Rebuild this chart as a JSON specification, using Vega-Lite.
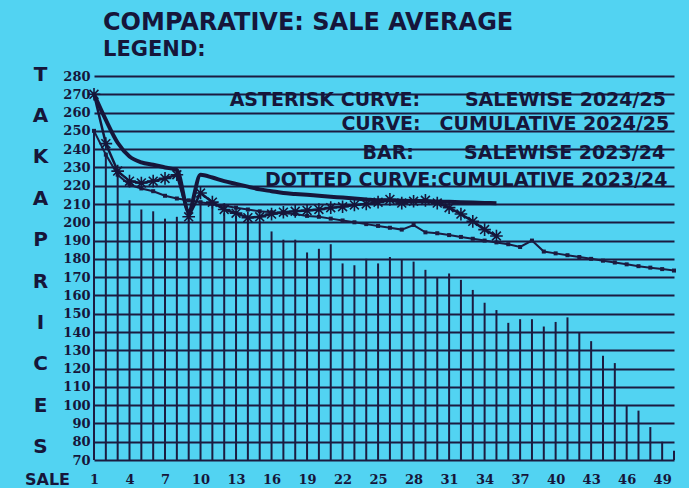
{
  "$schema": "https://vega.github.io/schema/vega-lite/v6.json",
  "width": 580,
  "height": 384,
  "autosize": {"type": "none"},
  "padding": {"left": 94, "top": 76, "right": 15, "bottom": 28},
  "background": "#52d3f2",
  "config": {"view": {"stroke": null}},
  "title": {
    "text": "COMPARATIVE: SALE AVERAGE",
    "subtitle": "LEGEND:",
    "anchor": "start",
    "frame": "group",
    "dx": 9,
    "offset": 4,
    "font": "DejaVu Sans",
    "fontSize": 24,
    "fontWeight": "bold",
    "color": "#16163a",
    "subtitleFont": "DejaVu Sans",
    "subtitleFontSize": 21,
    "subtitleFontWeight": "bold",
    "subtitleColor": "#16163a",
    "subtitlePadding": 4
  },
  "datasets": {
    "y2324": [
      {"sale": 1, "bar": 250, "cum": 250},
      {"sale": 2, "bar": 238, "cum": 237},
      {"sale": 3, "bar": 225, "cum": 226},
      {"sale": 4, "bar": 212, "cum": 220.5},
      {"sale": 5, "bar": 207, "cum": 218.5},
      {"sale": 6, "bar": 206, "cum": 217},
      {"sale": 7, "bar": 202, "cum": 214.5},
      {"sale": 8, "bar": 203, "cum": 213},
      {"sale": 9, "bar": 206, "cum": 212},
      {"sale": 10, "bar": 211, "cum": 211},
      {"sale": 11, "bar": 209, "cum": 210},
      {"sale": 12, "bar": 205, "cum": 209},
      {"sale": 13, "bar": 203.5, "cum": 208},
      {"sale": 14, "bar": 201.5, "cum": 207},
      {"sale": 15, "bar": 200.5, "cum": 206},
      {"sale": 16, "bar": 195, "cum": 205.5},
      {"sale": 17, "bar": 190.5, "cum": 205},
      {"sale": 18, "bar": 190.5, "cum": 204.5},
      {"sale": 19, "bar": 183.5, "cum": 203.5},
      {"sale": 20, "bar": 185.5, "cum": 203},
      {"sale": 21, "bar": 188, "cum": 202},
      {"sale": 22, "bar": 177.5, "cum": 201},
      {"sale": 23, "bar": 176.5, "cum": 200},
      {"sale": 24, "bar": 180, "cum": 199},
      {"sale": 25, "bar": 177.5, "cum": 198},
      {"sale": 26, "bar": 181, "cum": 197},
      {"sale": 27, "bar": 179.5, "cum": 196},
      {"sale": 28, "bar": 178.5, "cum": 198.5},
      {"sale": 29, "bar": 174, "cum": 194.5},
      {"sale": 30, "bar": 170, "cum": 194},
      {"sale": 31, "bar": 172, "cum": 193},
      {"sale": 32, "bar": 168.5, "cum": 192},
      {"sale": 33, "bar": 163, "cum": 191},
      {"sale": 34, "bar": 156, "cum": 190},
      {"sale": 35, "bar": 152, "cum": 189},
      {"sale": 36, "bar": 145, "cum": 188},
      {"sale": 37, "bar": 147, "cum": 186.5},
      {"sale": 38, "bar": 147, "cum": 190},
      {"sale": 39, "bar": 143, "cum": 184},
      {"sale": 40, "bar": 145.5, "cum": 183},
      {"sale": 41, "bar": 148, "cum": 182},
      {"sale": 42, "bar": 140, "cum": 181},
      {"sale": 43, "bar": 135, "cum": 180},
      {"sale": 44, "bar": 127, "cum": 179},
      {"sale": 45, "bar": 123, "cum": 178},
      {"sale": 46, "bar": 100, "cum": 177},
      {"sale": 47, "bar": 97, "cum": 176},
      {"sale": 48, "bar": 88, "cum": 175.2},
      {"sale": 49, "bar": 80, "cum": 174.4},
      {"sale": 50, "bar": 75, "cum": 173.6}
    ],
    "y2425": [
      {"sale": 1, "sw": 270, "cum": 270},
      {"sale": 2, "sw": 243, "cum": 256},
      {"sale": 3, "sw": 228, "cum": 243.5},
      {"sale": 4, "sw": 222.5, "cum": 236},
      {"sale": 5, "sw": 221.5, "cum": 232.8},
      {"sale": 6, "sw": 222.5, "cum": 231.5},
      {"sale": 7, "sw": 224, "cum": 230},
      {"sale": 8, "sw": 226, "cum": 228.5},
      {"sale": 9, "sw": 203, "cum": 206},
      {"sale": 10, "sw": 216, "cum": 226},
      {"sale": 11, "sw": 211, "cum": 224.5},
      {"sale": 12, "sw": 207, "cum": 222.5},
      {"sale": 13, "sw": 205, "cum": 221},
      {"sale": 14, "sw": 202.5, "cum": 219.5},
      {"sale": 15, "sw": 203, "cum": 218},
      {"sale": 16, "sw": 204.5, "cum": 217},
      {"sale": 17, "sw": 205.5, "cum": 216},
      {"sale": 18, "sw": 206, "cum": 215.5},
      {"sale": 19, "sw": 206.5, "cum": 215},
      {"sale": 20, "sw": 207, "cum": 214.5},
      {"sale": 21, "sw": 208, "cum": 214},
      {"sale": 22, "sw": 208.5, "cum": 213.5},
      {"sale": 23, "sw": 209.5, "cum": 213},
      {"sale": 24, "sw": 210, "cum": 212.5},
      {"sale": 25, "sw": 211, "cum": 212},
      {"sale": 26, "sw": 212.5, "cum": 212},
      {"sale": 27, "sw": 210.5, "cum": 211.8},
      {"sale": 28, "sw": 211.5, "cum": 211.6},
      {"sale": 29, "sw": 212, "cum": 211.5},
      {"sale": 30, "sw": 210.5, "cum": 211.3},
      {"sale": 31, "sw": 208, "cum": 211.2},
      {"sale": 32, "sw": 204.5, "cum": 211},
      {"sale": 33, "sw": 200.5, "cum": 210.8},
      {"sale": 34, "sw": 196, "cum": 210.6},
      {"sale": 35, "sw": 192.5, "cum": 210.4}
    ]
  },
  "layer": [
    {
      "data": {"name": "y2324"},
      "mark": {"type": "rule", "strokeWidth": 2, "color": "#1b1b40"},
      "encoding": {
        "x": {
          "field": "sale", "type": "quantitative",
          "scale": {"domain": [1, 50], "nice": false, "zero": false},
          "axis": {
            "values": [1, 4, 7, 10, 13, 16, 19, 22, 25, 28, 31, 34, 37, 40, 43, 46, 49],
            "tickCount": 60,
            "labelOverlap": false,
            "grid": false, "domain": false, "ticks": false,
            "labelPadding": 13, "labelFlush": false,
            "labelFont": "DejaVu Serif", "labelFontWeight": "bold", "labelFontSize": 13, "labelColor": "#16163a",
            "title": "SALE", "titleX": -47, "titleY": 24, "titleBaseline": "alphabetic", "titleAlign": "center",
            "titleFont": "DejaVu Sans", "titleFontSize": 16, "titleFontWeight": "bold", "titleColor": "#16163a"
          }
        },
        "y": {
          "field": "bar", "type": "quantitative",
          "scale": {"domain": [70, 280], "nice": false, "zero": false},
          "axis": {
            "values": [70, 80, 90, 100, 110, 120, 130, 140, 150, 160, 170, 180, 190, 200, 210, 220, 230, 240, 250, 260, 270, 280],
            "tickCount": 60,
            "labelOverlap": false,
            "grid": true, "gridColor": "#1b1b40", "gridWidth": 2, "gridOpacity": 1,
            "domain": false, "ticks": false, "labelPadding": 4,
            "labelFont": "DejaVu Serif", "labelFontWeight": "bold", "labelFontSize": 13, "labelColor": "#16163a",
            "title": ["T", "A", "K", "A", "P", "R", "I", "C", "E", "S"],
            "titleAngle": 0, "titleX": -54, "titleY": -12, "titleBaseline": "top", "titleAlign": "center",
            "titleLineHeight": 41.4,
            "titleFont": "DejaVu Sans", "titleFontSize": 20, "titleFontWeight": "bold", "titleColor": "#16163a"
          }
        },
        "y2": {"datum": 70}
      }
    },
    {
      "data": {"name": "y2324"},
      "mark": {"type": "line", "strokeWidth": 2, "color": "#1b1b40"},
      "encoding": {
        "x": {"field": "sale", "type": "quantitative"},
        "y": {"field": "cum", "type": "quantitative"}
      }
    },
    {
      "data": {"name": "y2324"},
      "mark": {"type": "point", "shape": "square", "size": 16, "filled": true, "opacity": 1, "color": "#1b1b40"},
      "encoding": {
        "x": {"field": "sale", "type": "quantitative"},
        "y": {"field": "cum", "type": "quantitative"}
      }
    },
    {
      "data": {"name": "y2425"},
      "mark": {"type": "line", "strokeWidth": 4, "interpolate": "monotone", "color": "#16163a"},
      "encoding": {
        "x": {"field": "sale", "type": "quantitative"},
        "y": {"field": "cum", "type": "quantitative"}
      }
    },
    {
      "data": {"name": "y2425"},
      "mark": {"type": "line", "strokeWidth": 2.5, "color": "#16163a"},
      "encoding": {
        "x": {"field": "sale", "type": "quantitative"},
        "y": {"field": "sw", "type": "quantitative"}
      }
    },
    {
      "data": {"name": "y2425"},
      "mark": {"type": "point", "shape": "M0,-1L0,1M-1,0L1,0M-0.7,-0.7L0.7,0.7M-0.7,0.7L0.7,-0.7", "size": 160, "filled": false, "strokeWidth": 1.6, "opacity": 1, "color": "#16163a"},
      "encoding": {
        "x": {"field": "sale", "type": "quantitative"},
        "y": {"field": "sw", "type": "quantitative"}
      }
    },
    {
      "data": {"values": [{"label": "ASTERISK CURVE:"}]},
      "mark": {"type": "text", "align": "right", "baseline": "middle", "font": "DejaVu Sans", "fontWeight": "bold", "fontSize": 19, "color": "#16163a"},
      "encoding": {"x": {"datum": 28.54}, "y": {"datum": 266.9}, "text": {"field": "label"}}
    },
    {
      "data": {"values": [{"label": "SALEWISE 2024/25"}]},
      "mark": {"type": "text", "align": "right", "baseline": "middle", "font": "DejaVu Sans", "fontWeight": "bold", "fontSize": 19, "color": "#16163a"},
      "encoding": {"x": {"datum": 49.32}, "y": {"datum": 266.9}, "text": {"field": "label"}}
    },
    {
      "data": {"values": [{"label": "CURVE:"}]},
      "mark": {"type": "text", "align": "right", "baseline": "middle", "font": "DejaVu Sans", "fontWeight": "bold", "fontSize": 19, "color": "#16163a"},
      "encoding": {"x": {"datum": 28.6}, "y": {"datum": 253.5}, "text": {"field": "label"}}
    },
    {
      "data": {"values": [{"label": "CUMULATIVE 2024/25"}]},
      "mark": {"type": "text", "align": "right", "baseline": "middle", "font": "DejaVu Sans", "fontWeight": "bold", "fontSize": 19, "color": "#16163a"},
      "encoding": {"x": {"datum": 49.6}, "y": {"datum": 253.5}, "text": {"field": "label"}}
    },
    {
      "data": {"values": [{"label": "BAR:"}]},
      "mark": {"type": "text", "align": "right", "baseline": "middle", "font": "DejaVu Sans", "fontWeight": "bold", "fontSize": 19, "color": "#16163a"},
      "encoding": {"x": {"datum": 28.03}, "y": {"datum": 237.9}, "text": {"field": "label"}}
    },
    {
      "data": {"values": [{"label": "SALEWISE 2023/24"}]},
      "mark": {"type": "text", "align": "right", "baseline": "middle", "font": "DejaVu Sans", "fontWeight": "bold", "fontSize": 19, "color": "#16163a"},
      "encoding": {"x": {"datum": 49.25}, "y": {"datum": 237.9}, "text": {"field": "label"}}
    },
    {
      "data": {"values": [{"label": "DOTTED CURVE:CUMULATIVE 2023/24"}]},
      "mark": {"type": "text", "align": "right", "baseline": "middle", "font": "DejaVu Sans", "fontWeight": "bold", "fontSize": 19, "color": "#16163a"},
      "encoding": {"x": {"datum": 49.45}, "y": {"datum": 223.2}, "text": {"field": "label"}}
    }
  ]
}
